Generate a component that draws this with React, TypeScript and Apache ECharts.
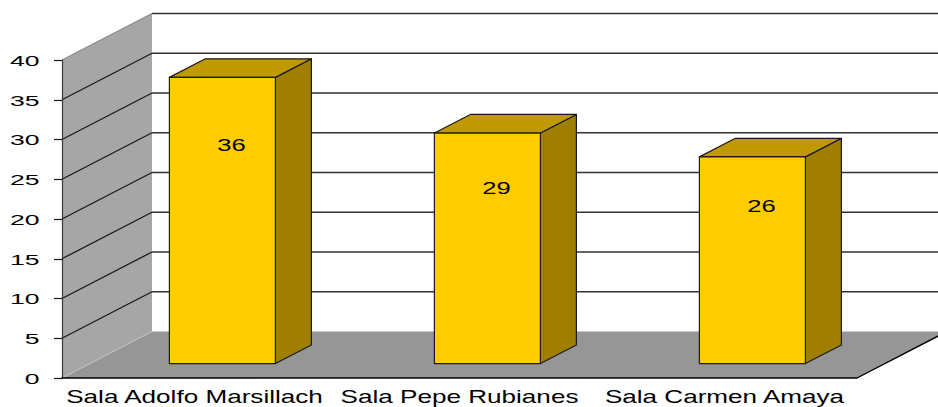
import React, { useEffect, useRef } from "react";
import * as echarts from "echarts";

const categories = ["Sala Adolfo Marsillach", "Sala Pepe Rubianes", "Sala Carmen Amaya"];
const values = [36, 29, 26];
const yTicks = [0, 5, 10, 15, 20, 25, 30, 35, 40];

// layout / style constants
const DEPTH: [number, number] = [90, -46.5];
const BAR_FRONT = 0.31;
const BAR_DEPTH = 0.4;
const BAR_WIDTH_FRAC = 0.4;
const FONT = "'Liberation Sans', Arial, sans-serif";

export default function App() {
  const ref = useRef<HTMLDivElement>(null);
  useEffect(() => {
    document.body.style.margin = "0";
    const chart = echarts.init(ref.current!, null, { renderer: "svg" });
    const yMax = yTicks[yTicks.length - 1];

    const sceneRender = (params: any, api: any) => {
      const cs = params.coordSys;
      const x0 = cs.x;
      const x1 = cs.x + cs.width;
      const yOf = (v: number) => api.coord([0, v])[1];
      const [dx, dy] = DEPTH;
      const yb = yOf(0);
      const yt = yOf(yMax);
      const children: any[] = [];
      children.push({
        type: "polygon",
        shape: { points: [[x0 + dx, yt + dy], [x1 + dx + 30, yt + dy], [x1 + dx + 30, yb + dy], [x0 + dx, yb + dy]] },
        style: { fill: "#ffffff" },
      });
      children.push({
        type: "polygon",
        shape: { points: [[x0, yt], [x0 + dx, yt + dy], [x0 + dx, yb + dy], [x0, yb]] },
        style: { fill: "#a6a6a6" },
      });
      children.push({
        type: "polygon",
        shape: { points: [[x0, yb], [x1, yb], [x1 + dx, yb + dy], [x0 + dx, yb + dy]] },
        style: { fill: "#969696" },
      });
      yTicks.forEach((v) => {
        if (v === 0) return;
        const y = yOf(v);
        children.push({
          type: "line",
          shape: { x1: x0 + dx, y1: y + dy, x2: x1 + dx + 30, y2: y + dy },
          style: { stroke: "#333333", lineWidth: 1.4 },
        });
        children.push({
          type: "line",
          shape: { x1: x0, y1: y, x2: x0 + dx, y2: y + dy },
          style: { stroke: v === yMax ? "#8c8c8c" : "#1a1a1a", lineWidth: 1.3 },
        });
      });
      children.push({
        type: "line",
        shape: { x1: x0, y1: yb, x2: x0 + dx, y2: yb + dy },
        style: { stroke: "#c4c4c4", lineWidth: 1 },
      });
      children.push({
        type: "line",
        shape: { x1: x1, y1: yb, x2: x1 + dx, y2: yb + dy },
        style: { stroke: "#000000", lineWidth: 1.4 },
      });
      yTicks.forEach((v) => {
        children.push({
          type: "text",
          x: x0 - 22.5,
          y: yOf(v) + 1.2,
          scaleX: 1.9,
          style: {
            text: String(v),
            x: 0,
            y: 0,
            align: "right",
            verticalAlign: "middle",
            fontSize: 14,
            fontFamily: FONT,
            fill: "#000000",
          },
        });
      });
      categories.forEach((c, i) => {
        children.push({
          type: "text",
          x: api.coord([i, 0])[0],
          y: yb + 19,
          scaleX: 1.45,
          style: {
            text: c,
            x: 0,
            y: 0,
            align: "center",
            verticalAlign: "middle",
            fontSize: 18,
            fontFamily: FONT,
            fill: "#000000",
          },
        });
      });
      return { type: "group", children };
    };

    const barRender = (params: any, api: any) => {
      const i = api.value(0);
      const v = api.value(1);
      const [dx, dy] = DEPTH;
      const fx = dx * BAR_FRONT;
      const fy = dy * BAR_FRONT;
      const ddx = dx * BAR_DEPTH;
      const ddy = dy * BAR_DEPTH;
      const [cx, ytop] = api.coord([i, v]);
      const ybase = api.coord([i, 0])[1];
      const bw = api.size([1, 0])[0] * BAR_WIDTH_FRAC;
      const L = cx - bw / 2 + fx;
      const R = cx + bw / 2 + fx;
      const T = ytop + fy;
      const B = ybase + fy;
      const stroke = { stroke: "#1a1a1a", lineWidth: 1.2, lineJoin: "round" };
      return {
        type: "group",
        children: [
          {
            type: "polygon",
            shape: { points: [[R, T], [R + ddx, T + ddy], [R + ddx, B + ddy], [R, B]] },
            style: { fill: "#a07f00", ...stroke },
          },
          {
            type: "polygon",
            shape: { points: [[L, T], [R, T], [R + ddx, T + ddy], [L + ddx, T + ddy]] },
            style: { fill: "#c09900", ...stroke },
          },
          {
            type: "rect",
            shape: { x: L, y: T, width: R - L, height: B - T },
            style: { fill: "#ffcc00", ...stroke },
          },
          {
            type: "text",
            x: cx + fx + 9,
            y: api.coord([i, v * 0.76])[1] + fy,
            scaleX: 1.6,
            style: {
              text: String(v),
              x: 0,
              y: 0,
              align: "center",
              verticalAlign: "middle",
              fontSize: 16,
              fontFamily: FONT,
              fill: "#000000",
            },
          },
        ],
      };
    };

    chart.setOption({
      animation: false,
      backgroundColor: "#ffffff",
      grid: { left: 62, top: 60, width: 795, height: 318 },
      xAxis: {
        type: "category",
        data: categories,
        z: 10,
        axisLine: { lineStyle: { color: "#000000", width: 1.5 } },
        axisTick: { length: 5, lineStyle: { color: "#000000", width: 1 } },
        axisLabel: { show: false },
        splitLine: { show: false },
      },
      yAxis: {
        type: "value",
        min: 0,
        max: yMax,
        interval: 5,
        z: 10,
        axisLine: { show: true, lineStyle: { color: "#3a3a3a", width: 1.2 } },
        axisTick: { show: true, length: 8, lineStyle: { color: "#1a1a1a", width: 1.2 } },
        axisLabel: { show: false },
        splitLine: { show: false },
      },
      series: [
        { type: "custom", name: "scene", data: [[0, 0]], renderItem: sceneRender, silent: true, z: 1 },
        { type: "custom", name: "Salas", data: values.map((v, i) => [i, v]), renderItem: barRender, z: 2 },
      ],
    });
    return () => chart.dispose();
  }, []);
  return <div ref={ref} style={{ width: 938, height: 407 }} />;
}
